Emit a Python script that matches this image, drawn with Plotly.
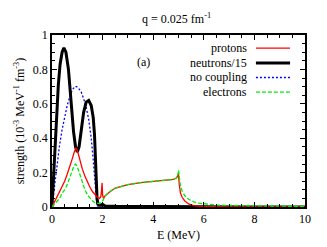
import plotly.graph_objects as go

# ---- data ----
E_n = [0, 0.05, 0.1, 0.17, 0.25, 0.32, 0.4, 0.47, 0.55, 0.65, 0.75, 0.85, 0.93, 1.0, 1.07,
       1.15, 1.25, 1.35, 1.45, 1.55, 1.63, 1.68, 1.72, 1.75, 1.78, 1.82, 1.9, 2.0, 2.1, 2.5,
       3, 4, 5, 6, 8, 10]
neutrons = [0, 0.16, 0.3, 0.52, 0.71, 0.83, 0.9, 0.925, 0.9, 0.8, 0.62, 0.44, 0.35, 0.32, 0.35,
            0.44, 0.55, 0.61, 0.62, 0.59, 0.52, 0.42, 0.28, 0.15, 0.05, 0.015, 0.01, 0.015, 0.006, 0.004,
            0.003, 0.002, 0.002, 0.001, 0.0005, 0]

E_b = [0, 0.05, 0.1, 0.2, 0.3, 0.4, 0.5, 0.6, 0.7, 0.8, 0.9, 0.97, 1.05, 1.15, 1.25, 1.35,
       1.45, 1.55, 1.62, 1.68, 1.73, 1.77, 1.8, 2, 4, 10]
no_coupling = [0, 0.06, 0.12, 0.25, 0.36, 0.45, 0.53, 0.59, 0.64, 0.68, 0.70, 0.70, 0.69, 0.67,
               0.63, 0.58, 0.51, 0.40, 0.29, 0.17, 0.07, 0.02, 0, 0, 0, 0]

E_p = [0, 0.1, 0.2, 0.3, 0.4, 0.5, 0.6, 0.7, 0.8, 0.88, 0.95, 1.02, 1.1, 1.2, 1.3, 1.4, 1.5,
       1.6, 1.7, 1.8, 1.88, 1.93, 1.96, 1.98, 2.0, 2.03, 2.1, 2.2, 2.3, 2.5, 2.75, 3, 3.5, 4,
       4.5, 4.8, 4.93, 4.98, 5.0, 5.03, 5.08, 5.15, 5.25, 5.4, 5.6, 5.8, 6, 7, 8, 10]
protons = [0, 0.03, 0.06, 0.09, 0.12, 0.15, 0.19, 0.23, 0.28, 0.32, 0.345, 0.32, 0.27, 0.22,
           0.18, 0.145, 0.115, 0.09, 0.07, 0.055, 0.05, 0.06, 0.1, 0.14, 0.07, 0.05, 0.065, 0.08,
           0.09, 0.11, 0.12, 0.13, 0.142, 0.15, 0.155, 0.16, 0.17, 0.185, 0.195, 0.13, 0.08,
           0.055, 0.035, 0.018, 0.008, 0.005, 0.003, 0.001, 0, 0]

E_e = [0, 0.1, 0.2, 0.3, 0.4, 0.5, 0.6, 0.7, 0.8, 0.87, 0.93, 1.0, 1.1, 1.2, 1.3, 1.4, 1.5,
       1.6, 1.7, 1.8, 1.88, 1.95, 2.0, 2.05, 2.1, 2.2, 2.3, 2.5, 2.75, 3, 3.5, 4, 4.5, 4.8,
       4.93, 4.98, 5.0, 5.03, 5.08, 5.15, 5.25, 5.4, 5.6, 5.8, 6, 6.5, 7, 8, 9, 10]
electrons = [0, 0.015, 0.03, 0.05, 0.08, 0.1, 0.13, 0.17, 0.21, 0.24, 0.25, 0.235, 0.19, 0.14,
             0.1, 0.07, 0.05, 0.035, 0.025, 0.02, 0.02, 0.03, 0.035, 0.05, 0.065, 0.08, 0.09,
             0.11, 0.12, 0.13, 0.142, 0.15, 0.155, 0.16, 0.17, 0.19, 0.215, 0.17, 0.12, 0.09,
             0.065, 0.045, 0.03, 0.022, 0.018, 0.012, 0.009, 0.006, 0.004, 0.003]

series = [
    ("protons", E_p, protons, dict(color="#ff0000", width=1.3, dash="solid")),
    ("neutrons/15", E_n, neutrons, dict(color="#000000", width=3, dash="solid")),
    ("no coupling", E_b, no_coupling, dict(color="#0000ff", width=1.3, dash="2px,2px")),
    ("electrons", E_e, electrons, dict(color="#00ee00", width=1.3, dash="4px,2px")),
]
draw_order = [2, 1, 0, 3]

FONT = "Liberation Serif, Times New Roman, serif"

fig = go.Figure()
for i in draw_order:
    name, x, y, ln = series[i]
    fig.add_trace(go.Scatter(x=x, y=y, mode="lines", name=name, line=ln, showlegend=False))

# custom legend: text right-aligned, line sample on the right
leg_y = [0.924, 0.837, 0.753, 0.668]
for (name, _, _, ln), yy in zip(series, leg_y):
    fig.add_annotation(x=0.779, y=yy, xref="paper", yref="paper", text=name, showarrow=False,
                       xanchor="right", yanchor="middle", font=dict(family=FONT, size=12, color="black"))
    fig.add_shape(type="line", xref="paper", yref="paper", x0=0.806, x1=0.941, y0=yy, y1=yy,
                  line=ln)

fig.add_annotation(x=0.328, y=0.895, xref="paper", yref="paper", text="(a)", showarrow=False,
                   font=dict(family=FONT, size=12, color="black"))

axis_common = dict(showline=True, linecolor="black", linewidth=1.5, mirror="ticks",
                   ticks="inside", ticklen=5, tickwidth=1, tickcolor="black",
                   showgrid=False, zeroline=False, automargin=False,
                   tickfont=dict(family=FONT, size=12, color="black"))

fig.update_layout(
    width=327, height=247,
    margin=dict(l=52, r=22, t=35, b=40),
    paper_bgcolor="white", plot_bgcolor="white",
    title=dict(text="q = 0.025 fm<sup>-1</sup>", x=0.54, xanchor="center", y=0.925,
               yanchor="middle", font=dict(family=FONT, size=12, color="black")),
    xaxis=dict(range=[0, 10], tickvals=[0, 2, 4, 6, 8, 10],
               minor=dict(dtick=0.5, ticks="inside", ticklen=3, tickcolor="black"),
               title=dict(text="E (MeV)", font=dict(family=FONT, size=12, color="black"), standoff=5),
               **axis_common),
    yaxis=dict(range=[0, 1], tickvals=[0, 0.2, 0.4, 0.6, 0.8, 1],
               ticktext=["0", "0.2", "0.4", "0.6", "0.8", "1"],
               minor=dict(dtick=0.05, ticks="inside", ticklen=3, tickcolor="black"),
               title=dict(text="strength (10<sup>-3</sup> MeV<sup>-1</sup> fm<sup>-3</sup>)",
                          font=dict(family=FONT, size=12, color="black"), standoff=6),
               **axis_common),
)

fig.write_html("out.html", config={"displayModeBar": False},
               post_script="document.body.style.margin='0';document.body.style.padding='0';")
